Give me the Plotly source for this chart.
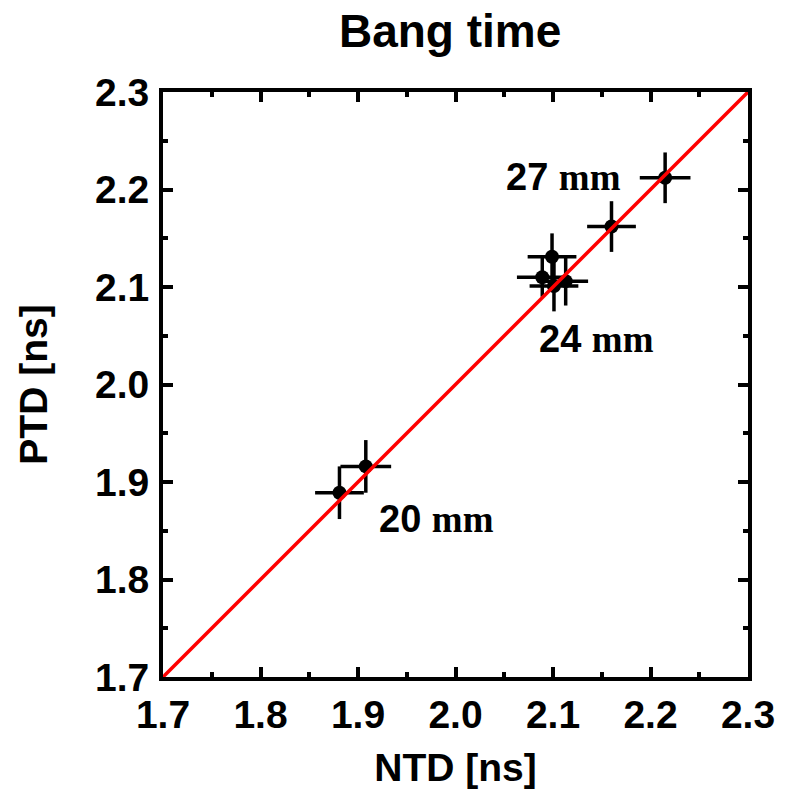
import plotly.graph_objects as go

ntd = [1.881, 1.908, 2.089, 2.099, 2.101, 2.113, 2.160, 2.215]
ptd = [1.889, 1.916, 2.110, 2.131, 2.101, 2.106, 2.162, 2.212]
ntd_err = [0.025, 0.026, 0.026, 0.025, 0.025, 0.023, 0.025, 0.026]
ptd_err = [0.027, 0.027, 0.020, 0.024, 0.026, 0.025, 0.026, 0.026]

line_x = [1.7, 2.3]
line_y = [1.7, 2.3]

labels = ["27", "24", "20"]
label_x = [2.111, 2.145, 1.980]
label_y = [2.213, 2.047, 1.862]

tick_vals = [1.7, 1.8, 1.9, 2.0, 2.1, 2.2, 2.3]
tick_text = ["1.7", "1.8", "1.9", "2.0", "2.1", "2.2", "2.3"]

FONT = "Liberation Sans, Arial, sans-serif"

fig = go.Figure()
fig.add_trace(go.Scatter(
    x=ntd, y=ptd, mode="markers",
    marker=dict(color="black", size=14),
    error_x=dict(type="data", array=ntd_err, color="black", thickness=3.5, width=0),
    error_y=dict(type="data", array=ptd_err, color="black", thickness=3.5, width=0),
    showlegend=False,
))
fig.add_trace(go.Scatter(
    x=line_x, y=line_y, mode="lines",
    line=dict(color="#ff0000", width=3.5),
    showlegend=False,
))

for t, lx, ly in zip(labels, label_x, label_y):
    fig.add_annotation(
        x=lx, y=ly, xref="x", yref="y", showarrow=False,
        text=f"<b>{t} <span style='font-family:Liberation Serif;font-size:37px'>mm</span></b>",
        font=dict(family=FONT, size=38, color="black"),
    )

axis_common = dict(
    range=[1.7, 2.3], tickmode="array", tickvals=tick_vals, ticktext=tick_text,
    ticks="inside", ticklen=10, tickwidth=3.5, tickcolor="black",
    showline=True, linewidth=4, linecolor="black", mirror="ticks",
    showgrid=False, zeroline=False,
    tickfont=dict(family=FONT, size=39, color="black", weight="bold"),
    minor=dict(ticks="inside", ticklen=5, tickwidth=3.5, tickcolor="black", dtick=0.05, showgrid=False),
)

fig.update_layout(
    width=787, height=801,
    margin=dict(l=163, r=37, t=92, b=124),
    paper_bgcolor="white", plot_bgcolor="white",
    title=dict(text="<b>Bang time</b>", x=0.572, xanchor="center", y=0.962, yanchor="middle",
               yref="container", font=dict(family=FONT, size=46, color="black")),
    xaxis=dict(**axis_common, title=dict(text="<b>NTD [ns]</b>", font=dict(family=FONT, size=39, color="black"), standoff=20)),
    yaxis=dict(**axis_common, title=dict(text="<b>PTD [ns]</b>", font=dict(family=FONT, size=39, color="black"), standoff=36)),
)
fig.update_yaxes(ticklabelstandoff=2)

fig.write_html("out.html")
